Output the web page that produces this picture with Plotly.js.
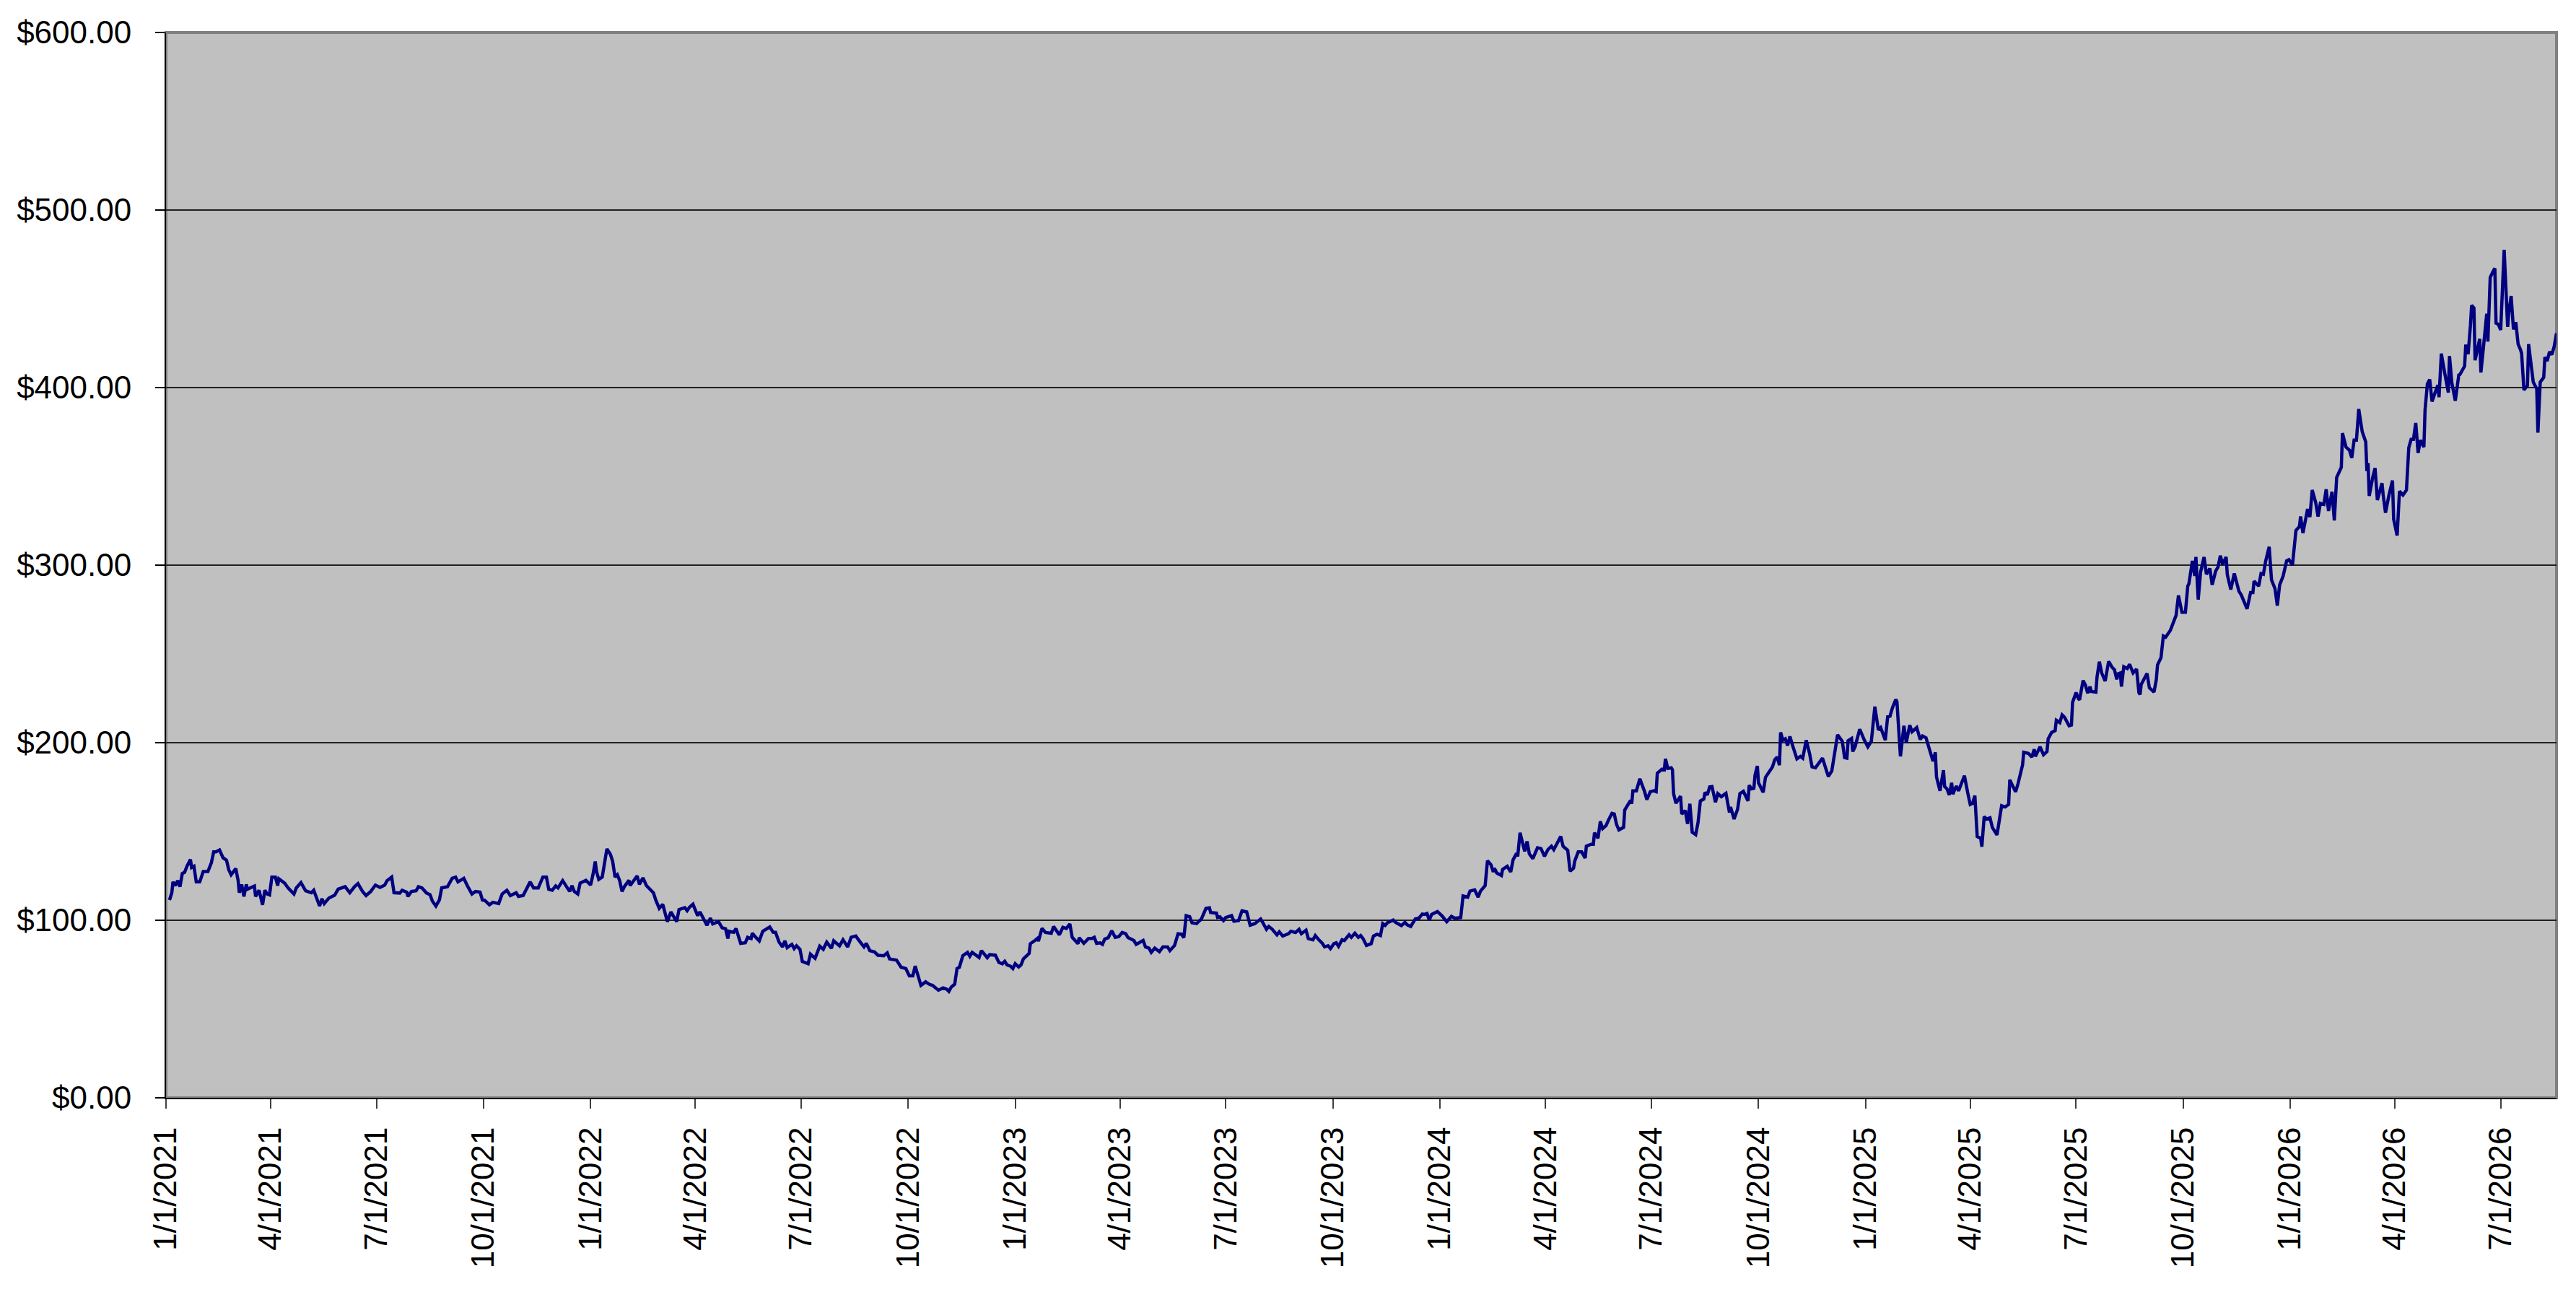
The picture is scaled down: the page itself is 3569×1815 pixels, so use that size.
<!DOCTYPE html>
<html>
<head>
<meta charset="utf-8">
<script src="https://cdn.plot.ly/plotly-3.0.1.min.js"></script>
<style>
  html, body { margin: 0; padding: 0; background: #ffffff; }
  #chart { width: 3569px; height: 1815px; }
</style>
</head>
<body>
<div id="chart"></div>
<script>
'use strict';

// day offsets are counted from this date
const START_DATE = '2021-01-01';

// 2021
const daysA = [
  3,5,6,8,10,12,14,16,18,21,
  22,24,26,29,32,36,39,41,43,46,
  49,52,54,56,60,62,63,65,67,69,
  70,76,77,80,83,85,87,89,91,94,
  96,97,102,105,110,112,116,120,125,127,
  132,134,136,140,145,148,154,156,158,162,
  165,169,172,176,180,184,188,190,194,196,
  201,203,207,208,211,215,217,220,224,227,
  229,232,235,237,242,246,249,251,256,259,
  263,266,270,272,274,278,281,286,289,293,
  296,301,303,307,310,313,316,320,324,327,
  329,332,335,337,341,344
];
const pricesA = [
  111.4,115.5,121.6,119.5,122.3,118.9,126.3,127,130.4,134.2,
  129.7,130.4,121.6,121.6,127.4,127.4,132.4,138.5,138.5,139.6,
  135.2,133.8,128.4,125.6,129.1,122.3,115.5,120.2,113.4,120.2,
  117.5,119.3,113.4,116.9,108.7,116.9,114.8,114.3,124.3,124.3,
  119.5,123.4,120.9,118.2,114.8,118.2,121.2,116.6,115.5,116.9,
  108,112.1,109.4,112.5,114.1,117.5,118.9,116.9,115.5,118.9,
  120.6,116.2,113.9,116.2,119.8,118.5,119.8,122.3,124.3,115.5,
  115.3,116.9,115.8,113.4,116.2,116.6,118.9,118.2,115.3,114.4,
  110.8,108,111.4,118.2,118.9,123.6,124.3,121.6,123.6,119.5,
  114.8,116.2,115.8,111.4,111.2,108.7,110.1,109.4,114.8,116.9,
  113.9,115.5,113.4,113.9,118.2,121.6,118.2,118.2,124.3,124.3,
  117.5,116.9,119.3,118.2,122.3,119.5
];

// 2022
const daysB = [
  347,349,351,354,356,361,365,367,369,370,
  372,375,377,379,382,384,386,388,390,392,
  394,398,399,405,407,410,413,416,419,421,
  424,427,431,434,439,441,446,448,450,453,
  455,457,459,462,465,468,470,475,478,481,
  483,484,488,490,494,498,500,503,504,507,
  510,513,516,519,522,524,527,530,532,534,
  538,540,542,545,547,552,554,558,562,565,
  568,572,574,579,582,586,589,593,596,600,
  602,605,609,612,617,620,622,628,632,636,
  639,642,644,646,649,653,656,659,664,668,
  671,673,675,678,680,682,685,689,691,693,
  699
];
const pricesB = [
  116.2,119.5,116.2,114.8,120.9,122.5,119.8,125.6,133.1,127.7,
  123,124.3,131.7,140.2,137.2,133.1,124.3,125.6,122.3,116.2,
  118.9,122.5,119.5,125,120.2,123.9,119.5,117.5,115.5,111.4,
  106.7,109,99.2,104.7,99.2,106,107.1,105.4,107.3,109,
  105.3,102.6,104.7,100.6,97.2,101.2,97.9,99.2,95.8,95.2,
  89.7,93.8,93.2,95.4,87,87.3,90.4,89.7,92.7,90.4,
  88.4,93.8,95.2,96.2,93.2,93.2,87.7,85,88.4,84.6,
  86.4,84,85.6,83.6,76.8,75.5,80.9,78.6,85.4,83.6,
  87.7,84.2,88.4,85.6,89,85,90.4,91.1,88.4,85,
  87,82.9,82.2,80.3,80,81.6,78.2,77.5,73.5,72.8,
  68.7,68.7,74.2,69.4,63.3,65.3,64,63.3,60.6,61.9,
  61.2,59.9,62.3,64,72.8,73.5,80,81.9,79.7,81.9,
  79
];

// 2023
const daysC = [
  701,703,706,708,713,716,719,721,723,726,
  728,730,733,735,737,742,743,747,749,750,
  753,756,761,763,768,771,774,777,779,784,
  785,789,793,796,798,800,803,805,807,810,
  813,816,819,822,825,827,832,834,840,842,
  845,847,850,854,857,861,863,867,870,873,
  875,877,880,882,886,888,890,894,897,898,
  903,904,906,909,911,916,918,922,925,929,
  932,936,939,941,943,946,948,951,955,957,
  960,965,967,971,974,976,980,982,986,988,
  991,994,996,999,1001,1004,1006,1008,1011,1013,
  1017,1019,1022,1025,1027,1029,1032,1036,1038,1041,
  1044,1046,1048,1050
];
const pricesC = [
  82.9,81.3,78.9,80.6,80.3,76.2,75.5,76.9,74.8,74.1,
  72.8,75.5,73.7,74.8,78.2,81.3,86.8,88.6,89.7,88.3,
  95.4,93.1,92.7,96.5,91.8,96,95.4,97.9,90.4,86.8,
  90.2,87,89.7,89.7,90.4,87,87.3,86.4,89.4,90.2,
  94.1,90.4,90.8,93.1,92.4,90.2,88.6,86.4,88.6,85,
  84.3,81.9,84.3,82.3,85,85,82.9,85.8,92.4,92.1,
  90.2,102.6,102,98.6,98.1,99.5,100.6,106.7,107,104.4,
  104,101.6,101.9,99.8,101.6,102.6,99.5,99.8,105.3,104.7,
  97.2,98.1,99.8,100.7,98.5,94.9,96.5,94.9,91.8,93.5,
  91.1,92.4,93.8,93.1,94.9,92.4,94.4,89.7,89,91.4,
  89,87,85,85.6,84,86.8,87.3,85.3,89,88.6,
  91.8,90.4,92.7,90.4,91.4,89.7,85.8,86.8,91.1,92.1,
  91.4,98.1,97.1,98.6
];

// 2024
const daysD = [
  1055,1057,1062,1065,1067,1070,1074,1077,1080,1082,
  1084,1086,1088,1093,1097,1101,1105,1108,1113,1115,
  1119,1121,1125,1128,1130,1134,1136,1139,1141,1142,
  1144,1148,1149,1153,1156,1158,1161,1162,1164,1166,
  1168,1170,1172,1175,1179,1182,1185,1188,1191,1193,
  1195,1199,1201,1205,1207,1210,1211,1214,1217,1220,
  1221,1225,1227,1228,1231,1233,1235,1238,1240,1243,
  1245,1247,1249,1253,1254,1257,1259,1260,1261,1264,
  1267,1271,1273,1276,1279,1281,1282,1286,1288,1289,
  1291,1294,1295,1296,1298,1302,1303,1306,1308,1310,
  1312,1315,1317,1319,1322,1323,1325,1327,1329,1332,
  1334,1337,1341,1344,1345,1348,1351,1353,1356,1360,
  1361,1363,1365,1366,1368,1369,1373,1375,1379,1381,
  1383,1385,1387,1388,1390,1392,1394,1396,1398,1400,
  1402,1405,1407
];
const pricesD = [
  100.1,98.8,97,98.8,97.4,96.5,100.8,101.1,103.5,103.3,
  103.8,100.1,103.3,104.9,102.4,99.2,102.2,101.1,101.5,113.7,
  113,116.4,117.1,113,116.4,119.5,133.6,131.3,127.2,129.3,
  126.6,125.2,128.6,130.4,127.2,134,137.7,136,149.3,144.4,
  138.8,144.4,137.4,134.7,140.8,140.4,136,139.8,141.7,139.8,
  142.1,147.2,141.7,139.4,127.6,129.3,133.3,138.5,138.5,135,
  141.7,142.8,142.8,149.3,146.2,155.7,151.6,153.4,156.4,160.2,
  159.8,153.9,150.9,152.3,162.1,165.2,167.5,165.6,172.9,172.9,
  179.7,172.6,167.9,172.4,172.9,172.4,182.8,185.1,184.8,190.9,
  185.5,185.9,184.8,171.3,165.9,169.9,159.8,161.8,154.3,165.6,
  149.6,148.2,155,167.2,168.3,172,170.6,175.1,175.3,166.5,
  171.3,169.6,171.5,160.7,163.8,157,162.5,171.3,172.6,167.2,
  176,174,174.3,181.8,186.9,177.4,172,180.5,184.6,186.4,
  190.5,191.9,187.3,205.8,201.4,202.2,198.4,203.5,199,195,
  190.9,192.3,191.3
];

// 2025
const daysE = [
  1410,1413,1415,1418,1424,1429,1432,1437,1441,1443,
  1445,1446,1449,1450,1452,1456,1460,1463,1466,1469,
  1472,1474,1478,1480,1482,1484,1487,1488,1491,1494,
  1496,1499,1501,1505,1508,1510,1513,1516,1519,1521,
  1522,1525,1528,1529,1531,1533,1535,1536,1539,1541,
  1544,1546,1549,1551,1553,1555,1557,1560,1561,1563,
  1565,1568,1570,1574,1578,1581,1584,1585,1590,1592,
  1596,1597,1601,1604,1606,1607,1611,1614,1617,1618,
  1621,1624,1625,1628,1630,1632,1636,1638,1639,1642,
  1644,1645,1648,1650,1652,1654,1655,1659,1660,1662,
  1664,1667,1670,1673,1675,1677,1678,1680,1681,1683,
  1686,1688,1691,1694,1696,1697,1698,1703,1705,1709,
  1711,1712,1715,1717,1719,1723
];
const pricesE = [
  201.4,193.6,186.4,185.9,191.3,181,184.1,204.5,200.8,191.6,
  191.3,201.1,202.4,195,197.7,207.6,201.4,197.7,200.8,220.3,
  207.2,208.5,201.4,214.6,214.9,219.4,224.4,223,192.3,209.5,
  200,209.9,206.2,208.5,201.8,203.8,202.7,195.7,189.6,194.6,
  180.7,172.9,184.5,175.3,174,170.6,177.4,171,175.6,172.9,
  178,181.4,171.3,165.2,165.8,170.2,147.1,146.2,141.4,158.4,
  157,157.7,152.3,148,164.5,163.8,165.2,179.1,172.3,176.7,
  187.5,194.6,194,191.9,196.3,192.3,197.7,193.2,195,202.2,
  205.8,206.8,212.6,211.3,215.7,214.4,209.5,209.9,222.8,228.2,
  224.8,224.1,235,232.5,227.9,231.6,228.9,228.5,237,245.6,
  239.3,234.7,245.8,242.4,241.1,235.7,238.8,239.3,231.6,242.8,
  241.8,244.2,239.3,241.5,228.2,227.1,232.9,239,230.9,228.5,
  235.7,243.8,247.9,260.1,259.4,263.2
];

// late 2025 - 2026
const daysF = [
  1728,1730,1733,1736,1738,1739,1742,1744,1745,1747,
  1749,1752,1754,1757,1759,1762,1764,1766,1768,1771,
  1772,1775,1778,1781,1782,1784,1787,1789,1792,1794,
  1795,1799,1801,1803,1805,1808,1810,1813,1815,1817,
  1820,1823,1825,1828,1831,1834,1835,1837,1840,1841,
  1843,1845,1848,1850,1852,1855,1857,1859,1862,1864,
  1866,1870,1871,1874,1877,1879,1881,1883,1885,1888,
  1891,1892,1893,1894,1897,1899,1901,1905,1906,1908,
  1911,1914,1915,1918,1920,1923,1926,1928,1930,1932,
  1934,1936,1938,1941,1942,1944,1946,1948,1951,1953,
  1954,1956,1959,1962,1963,1965,1968,1971,1972,1976,
  1977,1979,1981,1982,1984,1985,1989,1990,1992,1995,
  1996,1998,2000,2002,2003,2005,2007,2008,2010,2013,
  2014,2016,2018,2020,2022,2024,2025,2027,2030,2031,
  2033,2035,2038,2039,2041,2044,2045,2047,2049,2051,
  2053,2055
];
const pricesF = [
  271.8,282.9,273.5,273.5,288.2,289.6,302.4,293.9,304.6,280.6,
  296,304.6,294.9,298.1,288.9,296.7,298.9,305.3,300.6,304.6,
  294.6,286.3,295.3,286.3,285.3,283.2,278.6,275.4,284.6,284.6,
  291,288.2,295.3,294.9,302.4,310.3,291.7,286.8,277.2,288.9,
  293.9,302.4,303.1,300,319.5,321.7,327.4,318.1,328.1,331.6,
  327.1,342.3,335.2,327.4,334.8,334.2,342.7,330.5,341.3,325.2,
  349.4,355.1,374.4,366.5,364.7,360.4,370.4,370.4,387.9,375.1,
  369.4,353,357.5,339,349.4,354.7,336.6,346.2,339.5,329.5,
  339.5,347.6,325.9,316.7,341.6,339.5,342.3,366.1,370.8,370.8,
  380.1,363.2,370.4,366.5,387.5,402.1,404.6,392.2,397.9,401.4,
  394.6,419.2,407.8,397.2,417.8,402.8,392.6,407.1,407.4,412.1,
  424.2,418.8,434.9,446.3,444.9,415.4,427.4,408.5,421.4,441.6,
  425.9,462,464.8,467.2,436.3,435.6,432.5,445.6,477.6,434.2,
  442.5,451.6,432.8,436.8,424.5,421.4,419.2,398.6,401.1,424.5,
  414.2,403.1,399.3,374.6,403.1,405.7,417.1,415,420.2,418.5,
  423.1,430.6
];

const tickLabels = [
  '1/1/2021','4/1/2021','7/1/2021','10/1/2021',
  '1/1/2022','4/1/2022','7/1/2022','10/1/2022',
  '1/1/2023','4/1/2023','7/1/2023','10/1/2023',
  '1/1/2024','4/1/2024','7/1/2024','10/1/2024',
  '1/1/2025','4/1/2025','7/1/2025','10/1/2025',
  '1/1/2026','4/1/2026','7/1/2026'
];

const yTicks = [0, 100, 200, 300, 400, 500, 600];

const FONT = 'Liberation Sans, Arial, Helvetica, sans-serif';

function dayToDate(d) {
  const t = Date.parse(START_DATE + 'T00:00:00Z') + d * 86400000;
  return new Date(t).toISOString().slice(0, 10);
}

function labelToDate(s) {
  const p = s.split('/');
  return p[2] + '-' + ('0' + p[0]).slice(-2) + '-' + ('0' + p[1]).slice(-2);
}

const allDays = [].concat(daysA, daysB, daysC, daysD, daysE, daysF);
const allPrices = [].concat(pricesA, pricesB, pricesC, pricesD, pricesE, pricesF);
const n = Math.min(allDays.length, allPrices.length);

const data = [{
  x: allDays.slice(0, n).map(dayToDate),
  y: allPrices.slice(0, n),
  type: 'scatter',
  mode: 'lines',
  line: { color: '#000080', width: 4.5, shape: 'linear' },
  hoverinfo: 'skip'
}];

const layout = {
  width: 3569,
  height: 1815,
  autosize: false,
  margin: { l: 230, r: 27, t: 45, b: 294, pad: 0 },
  paper_bgcolor: '#ffffff',
  plot_bgcolor: '#c0c0c0',
  showlegend: false,
  font: { family: FONT, size: 44, color: '#000000' },
  xaxis: {
    type: 'date',
    range: [START_DATE, dayToDate(allDays[n - 1])],
    tickmode: 'array',
    tickvals: tickLabels.map(labelToDate),
    ticktext: tickLabels,
    tickangle: -90,
    tickfont: { family: FONT, size: 44, color: '#000000' },
    ticks: 'outside',
    ticklen: 13,
    tickwidth: 2,
    tickcolor: '#404040',
    ticklabelstandoff: 8,
    showgrid: false,
    zeroline: false,
    showline: true,
    linecolor: '#000000',
    linewidth: 2,
    fixedrange: true
  },
  yaxis: {
    range: [0, 600],
    tickmode: 'array',
    tickvals: yTicks,
    ticktext: yTicks.map(v => '$' + v.toFixed(2)),
    tickfont: { family: FONT, size: 44, color: '#000000' },
    ticks: 'outside',
    ticklen: 13,
    tickwidth: 2,
    tickcolor: '#000000',
    ticklabelstandoff: 24,
    showgrid: true,
    gridcolor: '#202020',
    gridwidth: 1.5,
    zeroline: false,
    showline: true,
    linecolor: '#000000',
    linewidth: 2,
    fixedrange: true
  },
  shapes: [{
    type: 'rect',
    xref: 'paper', yref: 'paper',
    x0: 0, x1: 1, y0: 0, y1: 1,
    line: { color: '#808080', width: 4 },
    fillcolor: 'rgba(0,0,0,0)',
    layer: 'below'
  }]
};

Plotly.newPlot('chart', data, layout, { displayModeBar: false, staticPlot: true });
</script>
</body>
</html>
